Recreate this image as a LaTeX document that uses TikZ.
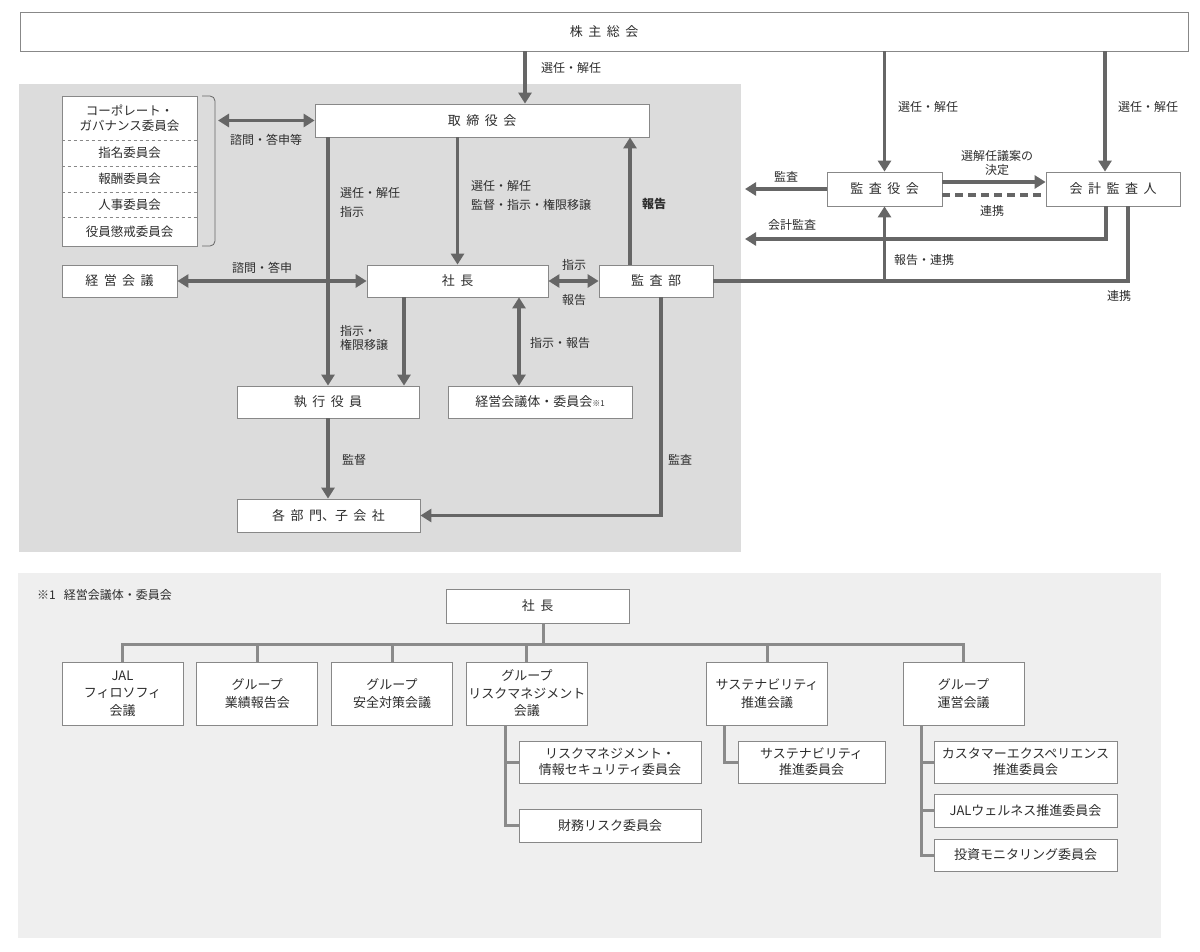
\documentclass[tikz,border=0pt]{standalone}
\usepackage{fontspec}
\setmainfont{Noto Sans CJK JP}
\usetikzlibrary{arrows.meta,positioning}
\definecolor{linegray}{RGB}{102,102,102}
\definecolor{boxgray}{RGB}{136,136,136}
\definecolor{panelgray}{RGB}{220,220,220}
\definecolor{panellight}{RGB}{239,239,239}
\definecolor{treegray}{RGB}{138,138,138}
\definecolor{textgray}{RGB}{45,45,45}
\newcommand{\widefont}{\fontsize{13}{16}\selectfont\spaceskip 5.5pt\relax}

\begin{document}
\begin{tikzpicture}[x=1pt,y=-1pt,
    box/.style={rectangle, draw=boxgray, line width=0.8pt, fill=white, align=center, inner sep=1pt, text=textgray, font=\fontsize{13}{16}\selectfont},
    wide/.style={font=\widefont},
    sbox/.style={box, minimum width=121, minimum height=63, font=\fontsize{13}{17.5}\selectfont},
    lbl/.style={text=textgray, align=center, inner sep=1pt, font=\fontsize{12}{14}\selectfont},
    conn/.style={draw=linegray, line width=3.8pt},
    arr/.style={conn, -{Triangle[width=13pt,length=11pt]}},
    dbl/.style={conn, {Triangle[width=13pt,length=11pt]}-{Triangle[width=13pt,length=11pt]}},
    tree/.style={draw=treegray, line width=3pt}]

    \useasboundingbox (0,0) rectangle (1200,952);
    \fill[panelgray] (19,84) rectangle (741,552);
    \fill[panellight] (18,573) rectangle (1161,938);

    % upper part
    \node[box, wide, minimum width=1168, minimum height=39] (kabu) at (604,31.5) {株 主 総 会};
    \node[box, wide, minimum width=334, minimum height=33] (torishimari) at (482,120.5) {取 締 役 会};
    \node[box, wide, minimum width=181, minimum height=32] (shacho) at (457.5,281) {社 長};
    \node[box, wide, minimum width=114, minimum height=32] (kansabu) at (656,281) {監 査 部};
    \node[box, wide, minimum width=115, minimum height=32] (keieikaigi) at (119.5,281) {経 営 会 議};
    \node[box, wide, minimum width=182, minimum height=32] (shikkou) at (328,402) {執 行 役 員};
    \node[box, minimum width=184, minimum height=32] (kaigitai) at (540,402) {経営会議体・委員会{\fontsize{8}{10}\selectfont ※1}};
    \node[box, wide, minimum width=183, minimum height=33] (kakubu) at (328.5,515.5) {各 部 門、子 会 社};
    \node[box, wide, minimum width=115, minimum height=34] (kansayaku) at (884.5,189) {監 査 役 会};
    \node[box, wide, minimum width=134, minimum height=34] (kaikei) at (1113,189) {会 計 監 査 人};

    % committees
    \node[box, minimum width=135, minimum height=150] (iinkai) at (129.5,171) {};
    \foreach \y in {140,166,192,217}
        \draw[boxgray, line width=0.8pt, dashed] (iinkai.west |- 0,\y) -- (iinkai.east |- 0,\y);
    \node[lbl, font=\fontsize{12.5}{15}\selectfont] (cg) at (129.5,118) {コーポレート・\\ガバナンス委員会};
    \node[lbl, font=\fontsize{12.5}{15}\selectfont] (shimei) at (129.5,153) {指名委員会};
    \node[lbl, font=\fontsize{12.5}{15}\selectfont] (houshu) at (129.5,179) {報酬委員会};
    \node[lbl, font=\fontsize{12.5}{15}\selectfont] (jinji) at (129.5,204.5) {人事委員会};
    \node[lbl, font=\fontsize{12.5}{15}\selectfont] (choukai) at (129.5,231.5) {役員懲戒委員会};
    \draw[linegray, line width=0.8pt, rounded corners=5pt] (202,96) -- (215,96) -- (215,246) -- (202,246);
    \coordinate (brk) at (218,120.5);

    % arrows
    \draw[arr] (kabu.south -| 525,0) -- (torishimari.north -| 525,0);
    \draw[arr] (kabu.south -| kansayaku.north) -- (kansayaku.north);
    \draw[arr] (kabu.south -| 1105,0) -- (kaikei.north -| 1105,0);
    \draw[dbl] (brk) -- (torishimari.west);
    \draw[dbl] (keieikaigi.east) -- (shacho.west);
    \draw[arr] (torishimari.south -| shikkou.north) -- (shikkou.north);
    \draw[arr] (torishimari.south -| shacho.north) -- (shacho.north);
    \draw[arr] (kansabu.north -| 630,0) -- (torishimari.south -| 630,0);
    \draw[dbl] (shacho.east) -- (kansabu.west);
    \draw[arr] (shacho.south -| 404,0) -- (shikkou.north -| 404,0);
    \draw[dbl] (shacho.south -| 519,0) -- (kaigitai.north -| 519,0);
    \draw[arr] (shikkou.south) -- (kakubu.north -| shikkou.south);
    \draw[arr] (kansabu.south -| 661,0) |- (kakubu.east);

    \coordinate (kansaL) at (745,189);
    \coordinate (kaikeiL) at (745,239);
    \draw[arr] (kansayaku.west) -- (kansaL);
    \draw[arr] ([yshift=7pt]kansayaku.east) -- ([yshift=7pt]kaikei.west);
    \draw[conn, dash pattern=on 8pt off 5pt] ([yshift=-6pt]kansayaku.east) -- ([yshift=-6pt]kaikei.west);
    \draw[arr] (kaikei.south -| 1106,0) |- (kaikeiL);
    \draw[conn] (kansabu.east) -| (kaikei.south -| 1128,0);
    \draw[arr] (kansabu.east -| kansayaku.south) -- (kansayaku.south);

    % labels
    \node[lbl, anchor=west] at (540,68) {選任・解任};
    \node[lbl, anchor=west] at (897,107) {選任・解任};
    \node[lbl, anchor=west] at (1117,107) {選任・解任};
    \node[lbl] at (266,140) {諮問・答申等};
    \node[lbl] at (262,268) {諮問・答申};
    \node[lbl, anchor=west, align=left] at (339,202) {選任・解任\\[5pt]指示};
    \node[lbl, anchor=west, align=left] at (470,195) {選任・解任\\[5pt]監督・指示・権限移譲};
    \node[lbl, anchor=west, font=\fontsize{12}{14}\selectfont\bfseries] at (641,204) {報告};
    \node[lbl] at (574,265) {指示};
    \node[lbl] at (574,300) {報告};
    \node[lbl, anchor=west, align=left] at (339,338) {指示・\\権限移譲};
    \node[lbl, anchor=west] at (529,343) {指示・報告};
    \node[lbl, anchor=west] at (341,460) {監督};
    \node[lbl, anchor=west] at (667,460) {監査};
    \node[lbl] at (786,177) {監査};
    \node[lbl] at (997,163) {選解任議案の\\決定};
    \node[lbl] at (992,211) {連携};
    \node[lbl] at (792,225) {会計監査};
    \node[lbl, anchor=west] at (893,260) {報告・連携};
    \node[lbl] at (1119,296) {連携};

    % lower part
    \node[lbl, anchor=west] at (36,595) {※1\hspace{8pt}経営会議体・委員会};
    \node[box, wide, minimum width=183, minimum height=34] (shacho2) at (537.5,606) {社 長};
    \node[sbox] (jal) at (122.5,693.5) {JAL\\フィロソフィ\\会議};
    \node[sbox, right=13pt of jal] (gyoseki) {グループ\\業績報告会};
    \node[sbox, right=13pt of gyoseki] (anzen) {グループ\\安全対策会議};
    \node[sbox, right=13pt of anzen] (risk) {グループ\\リスクマネジメント\\会議};
    \node[sbox] (sust) at (767,693.5) {サステナビリティ\\推進会議};
    \node[sbox] (ops) at (963.5,693.5) {グループ\\運営会議};
    \node[box, minimum width=182, minimum height=42] (jouhou) at (610,762) {リスクマネジメント・\\情報セキュリティ委員会};
    \node[box, minimum width=182, minimum height=33] (zaimu) at (610,825.5) {財務リスク委員会};
    \node[box, minimum width=147, minimum height=42] (sustiin) at (811.5,762) {サステナビリティ\\推進委員会};
    \node[box, minimum width=183, minimum height=42] (cx) at (1025.5,762) {カスタマーエクスペリエンス\\推進委員会};
    \node[box, minimum width=183, minimum height=33] (wellness) at (1025.5,810.5) {JALウェルネス推進委員会};
    \node[box, minimum width=183, minimum height=32] (toushi) at (1025.5,855) {投資モニタリング委員会};

    \coordinate (bus) at (543,644);
    \draw[tree] (shacho2.south -| bus) -- (bus);
    \draw[tree] (jal.north) -- (jal.north |- bus) -- (ops.north |- bus) -- (ops.north);
    \foreach \b in {gyoseki,anzen,risk,sust}
        \draw[tree] (\b.north) -- (\b.north |- bus);
    \draw[tree] (risk.south -| 505,0) |- (jouhou.west);
    \draw[tree] (risk.south -| 505,0) |- (zaimu.west);
    \draw[tree] (sust.south -| 724,0) |- (sustiin.west);
    \foreach \b in {cx,wellness,toushi}
        \draw[tree] (ops.south -| 921,0) |- (\b.west);
\end{tikzpicture}
\end{document}
